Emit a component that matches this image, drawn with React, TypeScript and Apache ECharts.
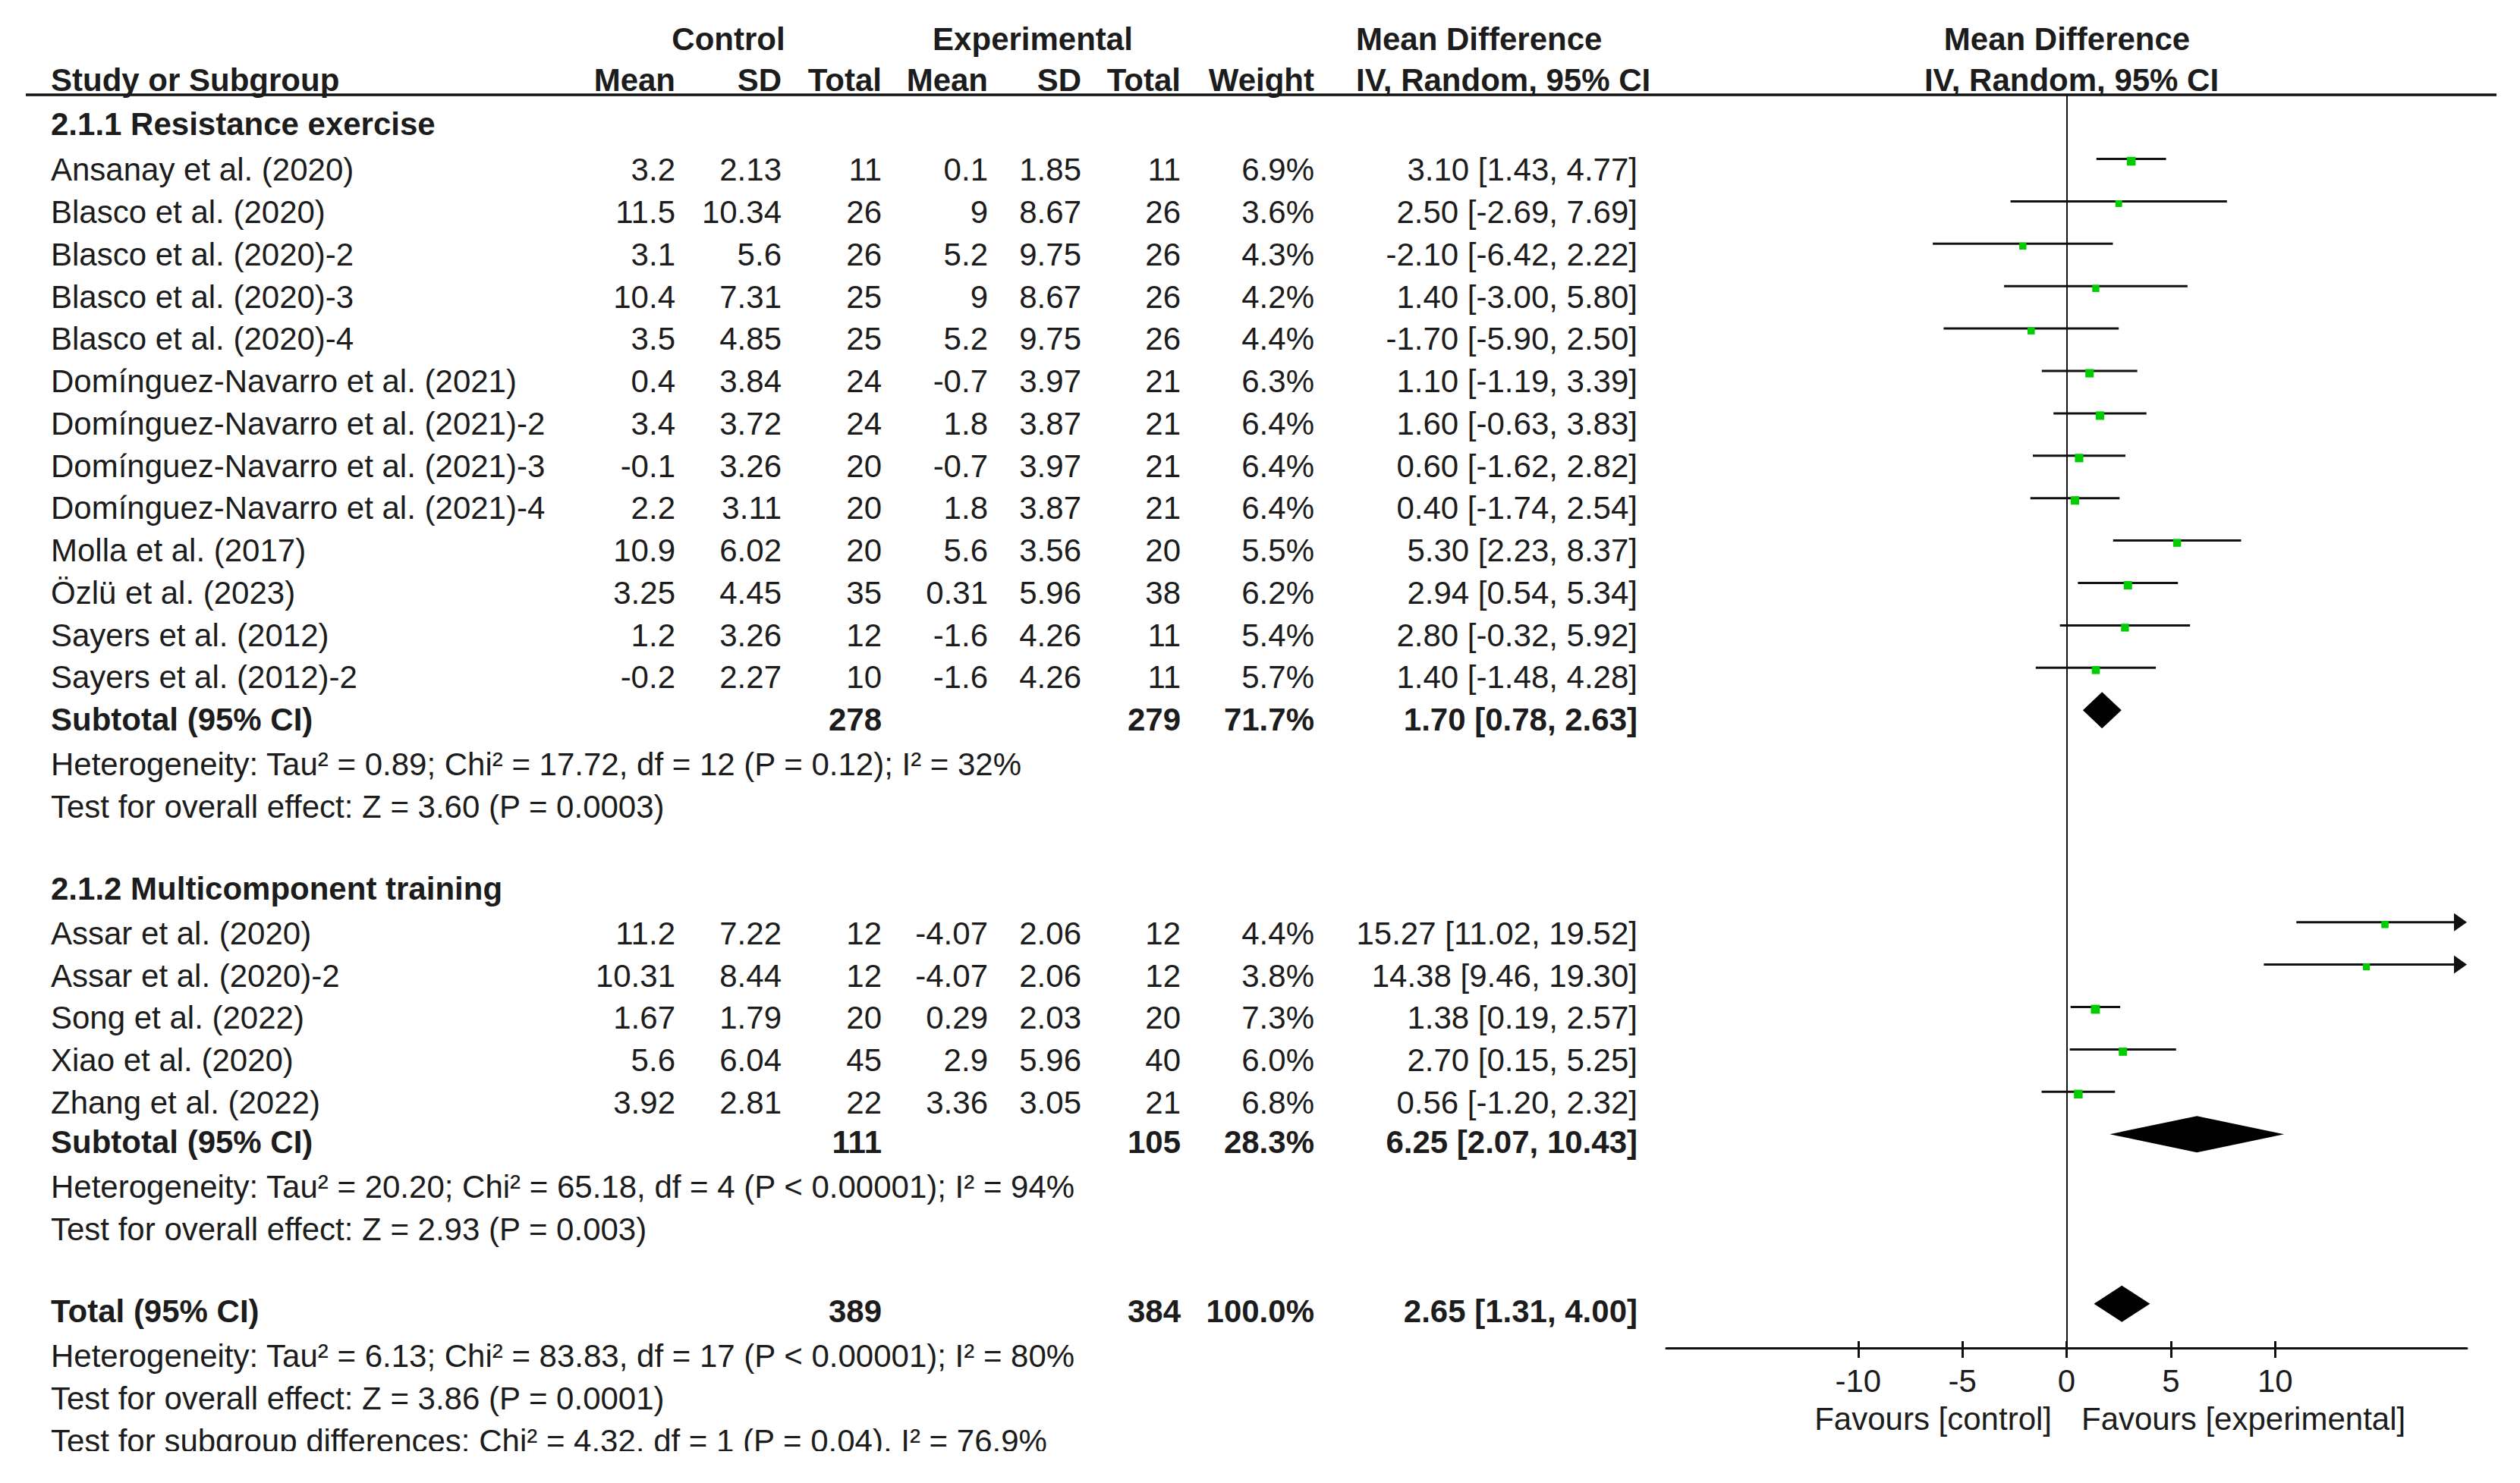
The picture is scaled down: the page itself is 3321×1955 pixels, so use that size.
import React, { useEffect, useRef } from "react";
import * as echarts from "echarts";

// ---------------- DATA ----------------
const groupTitles = ["2.1.1 Resistance exercise", "2.1.2 Multicomponent training"];

const studies1 = [
  "Ansanay et al. (2020)",
  "Blasco et al. (2020)",
  "Blasco et al. (2020)-2",
  "Blasco et al. (2020)-3",
  "Blasco et al. (2020)-4",
  "Domínguez-Navarro et al. (2021)",
  "Domínguez-Navarro et al. (2021)-2",
  "Domínguez-Navarro et al. (2021)-3",
  "Domínguez-Navarro et al. (2021)-4",
  "Molla et al. (2017)",
  "Özlü et al. (2023)",
  "Sayers et al. (2012)",
  "Sayers et al. (2012)-2",
];
const ctrlMean1 = [3.2, 11.5, 3.1, 10.4, 3.5, 0.4, 3.4, -0.1, 2.2, 10.9, 3.25, 1.2, -0.2];
const ctrlSD1 = [2.13, 10.34, 5.6, 7.31, 4.85, 3.84, 3.72, 3.26, 3.11, 6.02, 4.45, 3.26, 2.27];
const ctrlN1 = [11, 26, 26, 25, 25, 24, 24, 20, 20, 20, 35, 12, 10];
const expMean1 = [0.1, 9, 5.2, 9, 5.2, -0.7, 1.8, -0.7, 1.8, 5.6, 0.31, -1.6, -1.6];
const expSD1 = [1.85, 8.67, 9.75, 8.67, 9.75, 3.97, 3.87, 3.97, 3.87, 3.56, 5.96, 4.26, 4.26];
const expN1 = [11, 26, 26, 26, 26, 21, 21, 21, 21, 20, 38, 11, 11];
const weight1 = [6.9, 3.6, 4.3, 4.2, 4.4, 6.3, 6.4, 6.4, 6.4, 5.5, 6.2, 5.4, 5.7];
const md1 = [3.1, 2.5, -2.1, 1.4, -1.7, 1.1, 1.6, 0.6, 0.4, 5.3, 2.94, 2.8, 1.4];
const lo1 = [1.43, -2.69, -6.42, -3.0, -5.9, -1.19, -0.63, -1.62, -1.74, 2.23, 0.54, -0.32, -1.48];
const hi1 = [4.77, 7.69, 2.22, 5.8, 2.5, 3.39, 3.83, 2.82, 2.54, 8.37, 5.34, 5.92, 4.28];

const studies2 = [
  "Assar et al. (2020)",
  "Assar et al. (2020)-2",
  "Song et al. (2022)",
  "Xiao et al. (2020)",
  "Zhang et al. (2022)",
];
const ctrlMean2 = [11.2, 10.31, 1.67, 5.6, 3.92];
const ctrlSD2 = [7.22, 8.44, 1.79, 6.04, 2.81];
const ctrlN2 = [12, 12, 20, 45, 22];
const expMean2 = [-4.07, -4.07, 0.29, 2.9, 3.36];
const expSD2 = [2.06, 2.06, 2.03, 5.96, 3.05];
const expN2 = [12, 12, 20, 40, 21];
const weight2 = [4.4, 3.8, 7.3, 6.0, 6.8];
const md2 = [15.27, 14.38, 1.38, 2.7, 0.56];
const lo2 = [11.02, 9.46, 0.19, 0.15, -1.2];
const hi2 = [19.52, 19.3, 2.57, 5.25, 2.32];

// subtotal 1, subtotal 2, total
const pooledLabels = ["Subtotal (95% CI)", "Subtotal (95% CI)", "Total (95% CI)"];
const pooledCtrlN = [278, 111, 389];
const pooledExpN = [279, 105, 384];
const pooledWeight = [71.7, 28.3, 100.0];
const pooledMD = [1.7, 6.25, 2.65];
const pooledLo = [0.78, 2.07, 1.31];
const pooledHi = [2.63, 10.43, 4.0];

const stats1 = [
  "Heterogeneity: Tau² = 0.89; Chi² = 17.72, df = 12 (P = 0.12); I² = 32%",
  "Test for overall effect: Z = 3.60 (P = 0.0003)",
];
const stats2 = [
  "Heterogeneity: Tau² = 20.20; Chi² = 65.18, df = 4 (P < 0.00001); I² = 94%",
  "Test for overall effect: Z = 2.93 (P = 0.003)",
];
const statsTotal = [
  "Heterogeneity: Tau² = 6.13; Chi² = 83.83, df = 17 (P < 0.00001); I² = 80%",
  "Test for overall effect: Z = 3.86 (P = 0.0001)",
  "Test for subgroup differences: Chi² = 4.32, df = 1 (P = 0.04), I² = 76.9%",
];

const xTicks = [-10, -5, 0, 5, 10];
const axisMin = -19.2;
const axisMax = 19.2;

// ---------------- STYLE / LAYOUT ----------------
const FONT = "'Liberation Sans', Arial, Helvetica, sans-serif";
const TXT = "#1c1c1c";
const AX = "#111111";
const FS = 42;
const W = 3321;
const H = 1955;

const COL = {
  name: 67,
  cMean: 890,
  cSD: 1030,
  cTot: 1162,
  eMean: 1302,
  eSD: 1425,
  eTot: 1556,
  w: 1732,
  ci: 2158,
  mdLeft: 1787,
  plotCenter: 2724,
};

type Align = "left" | "right" | "center";
type TextItem = { x: number; row: number; text: string; align: Align; bold: boolean };

const fmtCI = (m: number, l: number, h: number) =>
  `${m.toFixed(2)} [${l.toFixed(2)}, ${h.toFixed(2)}]`;

function buildOption() {
  const items: TextItem[] = [];
  const add = (x: number, row: number, text: string, align: Align, bold = false) =>
    items.push({ x, row, text, align, bold });

  // headers
  const h0 = -0.1;
  const h1 = 0.88;
  add(960, h0, "Control", "center", true);
  add(1361, h0, "Experimental", "center", true);
  add(COL.mdLeft, h0, "Mean Difference", "left", true);
  add(COL.plotCenter, h0, "Mean Difference", "center", true);
  add(COL.name, h1, "Study or Subgroup", "left", true);
  add(COL.cMean, h1, "Mean", "right", true);
  add(COL.cSD, h1, "SD", "right", true);
  add(COL.cTot, h1, "Total", "right", true);
  add(COL.eMean, h1, "Mean", "right", true);
  add(COL.eSD, h1, "SD", "right", true);
  add(COL.eTot, h1, "Total", "right", true);
  add(COL.w, h1, "Weight", "right", true);
  add(COL.mdLeft, h1, "IV, Random, 95% CI", "left", true);
  add(COL.plotCenter + 6, h1, "IV, Random, 95% CI", "center", true);

  const ciData: number[][] = [];
  const markerData: number[][] = [];
  const diamondData: number[][] = [];

  const groups = [
    { names: studies1, cM: ctrlMean1, cS: ctrlSD1, cN: ctrlN1, eM: expMean1, eS: expSD1, eN: expN1, w: weight1, md: md1, lo: lo1, hi: hi1, stats: stats1 },
    { names: studies2, cM: ctrlMean2, cS: ctrlSD2, cN: ctrlN2, eM: expMean2, eS: expSD2, eN: expN2, w: weight2, md: md2, lo: lo2, hi: hi2, stats: stats2 },
  ];

  // small vertical nudges (in row units) of text rows
  const titleNudge = [-0.09, 0];
  const statsNudge = 0.06;
  const lateNudge = 0.06;

  let row = 2;
  const addPooled = (k: number, r: number) => {
    add(COL.name, r, pooledLabels[k], "left", true);
    add(COL.cTot, r, String(pooledCtrlN[k]), "right", true);
    add(COL.eTot, r, String(pooledExpN[k]), "right", true);
    add(COL.w, r, pooledWeight[k].toFixed(1) + "%", "right", true);
    add(COL.ci, r, fmtCI(pooledMD[k], pooledLo[k], pooledHi[k]), "right", true);
    diamondData.push([pooledLo[k], pooledMD[k], pooledHi[k], r]);
  };

  groups.forEach((g, gi) => {
    add(COL.name, row + titleNudge[gi], groupTitles[gi], "left", true);
    row++;
    g.names.forEach((n, i) => {
      const tr = row + (gi > 0 ? lateNudge : 0);
      add(COL.name, tr, n, "left");
      add(COL.cMean, tr, String(g.cM[i]), "right");
      add(COL.cSD, tr, String(g.cS[i]), "right");
      add(COL.cTot, tr, String(g.cN[i]), "right");
      add(COL.eMean, tr, String(g.eM[i]), "right");
      add(COL.eSD, tr, String(g.eS[i]), "right");
      add(COL.eTot, tr, String(g.eN[i]), "right");
      add(COL.w, tr, g.w[i].toFixed(1) + "%", "right");
      add(COL.ci, tr, fmtCI(g.md[i], g.lo[i], g.hi[i]), "right");
      ciData.push([g.lo[i], g.hi[i], row]);
      markerData.push([g.md[i], row, g.w[i]]);
      row++;
    });
    addPooled(gi, row);
    row++;
    g.stats.forEach((s) => {
      add(COL.name, row + statsNudge, s, "left");
      row++;
    });
    row++;
  });
  addPooled(2, row);
  row++;
  statsTotal.forEach((s) => {
    add(COL.name, row + statsNudge, s, "left");
    row++;
  });

  const textSeries = {
    type: "custom",
    coordinateSystem: "cartesian2d",
    xAxisIndex: 0,
    yAxisIndex: 0,
    silent: true,
    clip: false,
    z: 10,
    data: items.map((it) => [it.x, it.row]),
    encode: { x: 0, y: 1 },
    renderItem: (params: any, api: any) => {
      const it = items[params.dataIndex];
      const p = api.coord([api.value(0), api.value(1)]);
      return {
        type: "text",
        x: p[0],
        y: p[1],
        style: {
          text: it.text,
          fill: TXT,
          fontFamily: FONT,
          fontSize: FS,
          fontWeight: it.bold ? "bold" : "normal",
          align: it.align,
          verticalAlign: "middle",
        },
      };
    },
  };

  const ciSeries = {
    type: "custom",
    coordinateSystem: "cartesian2d",
    xAxisIndex: 1,
    yAxisIndex: 1,
    silent: true,
    clip: false,
    z: 3,
    data: ciData,
    encode: { x: [0, 1], y: 2 },
    renderItem: (_params: any, api: any) => {
      const lo = api.value(0);
      const hi = api.value(1);
      const r = api.value(2);
      const a = Math.max(lo, axisMin);
      const b = Math.min(hi, axisMax);
      const p1 = api.coord([a, r]);
      const p2 = api.coord([b, r]);
      const children: any[] = [];
      const headLen = 17;
      const headHalf = 12;
      let x1 = p1[0];
      let x2 = p2[0];
      if (hi > axisMax) {
        children.push({
          type: "polygon",
          shape: { points: [[p2[0], p2[1]], [p2[0] - headLen, p2[1] - headHalf], [p2[0] - headLen, p2[1] + headHalf]] },
          style: { fill: AX },
        });
        x2 = p2[0] - headLen + 2;
      }
      if (lo < axisMin) {
        children.push({
          type: "polygon",
          shape: { points: [[p1[0], p1[1]], [p1[0] + headLen, p1[1] - headHalf], [p1[0] + headLen, p1[1] + headHalf]] },
          style: { fill: AX },
        });
        x1 = p1[0] + headLen - 2;
      }
      children.push({
        type: "line",
        shape: { x1, y1: p1[1], x2, y2: p2[1] },
        style: { stroke: AX, lineWidth: 3 },
      });
      return { type: "group", children };
    },
  };

  const diamondSeries = {
    type: "custom",
    coordinateSystem: "cartesian2d",
    xAxisIndex: 1,
    yAxisIndex: 1,
    silent: true,
    clip: false,
    z: 3,
    data: diamondData,
    encode: { x: [0, 1, 2], y: 3 },
    renderItem: (_params: any, api: any) => {
      const r = api.value(3);
      const pl = api.coord([api.value(0), r]);
      const pm = api.coord([api.value(1), r]);
      const ph = api.coord([api.value(2), r]);
      const hh = 24;
      return {
        type: "polygon",
        shape: { points: [[pl[0], pl[1]], [pm[0], pm[1] - hh], [ph[0], ph[1]], [pm[0], pm[1] + hh]] },
        style: { fill: "#000000" },
      };
    },
  };

  const markerSeries = {
    type: "scatter",
    xAxisIndex: 1,
    yAxisIndex: 1,
    silent: true,
    z: 4,
    symbol: "rect",
    symbolSize: (v: number[]) => 6 + 0.8 * v[2],
    symbolOffset: [0, 3],
    itemStyle: { color: "#00cc00", opacity: 1 },
    data: markerData,
    encode: { x: 0, y: 1 },
    markLine: {
      silent: true,
      symbol: ["none", "none"],
      label: { show: false },
      lineStyle: { color: AX, width: 2, type: "solid" },
      data: [{ xAxis: 0 }],
    },
  };

  const tickStyle = { color: AX, width: 3 };

  return {
    animation: false,
    backgroundColor: "#ffffff",
    grid: [
      { left: 0, top: 0, width: W, height: H, outerBoundsMode: "none", containLabel: false },
      { left: 2196, top: 125, width: 1055, height: 1652, outerBoundsMode: "none", containLabel: false },
    ],
    xAxis: [
      { gridIndex: 0, type: "value", min: 0, max: W, show: false },
      {
        gridIndex: 1,
        type: "value",
        min: axisMin,
        max: axisMax,
        position: "bottom",
        axisLine: { show: true, onZero: false, lineStyle: { color: AX, width: 3 } },
        axisTick: { show: true, customValues: xTicks, inside: false, length: 13, lineStyle: tickStyle },
        axisLabel: {
          show: true,
          customValues: xTicks,
          margin: 22,
          color: TXT,
          fontSize: FS,
          fontFamily: FONT,
        },
        splitLine: { show: false },
      },
      {
        gridIndex: 1,
        type: "value",
        min: axisMin,
        max: axisMax,
        position: "bottom",
        axisLine: { show: false, onZero: false },
        axisTick: { show: true, customValues: xTicks, inside: true, length: 9, lineStyle: tickStyle },
        axisLabel: { show: false },
        splitLine: { show: false },
      },
    ],
    yAxis: [
      { gridIndex: 0, type: "value", min: -1.019, max: 34.06, inverse: true, show: false },
      { gridIndex: 1, type: "value", min: 1.488, max: 31.041, inverse: true, show: false },
    ],
    graphic: [
      {
        type: "line",
        shape: { x1: 34, y1: 125, x2: 3290, y2: 125 },
        style: { stroke: AX, lineWidth: 3.5 },
        z: 5,
      },
      {
        type: "text",
        x: 2704,
        y: 1870,
        style: {
          text: "Favours [control]",
          fill: TXT,
          fontFamily: FONT,
          fontSize: FS,
          align: "right",
          textAlign: "right",
          verticalAlign: "middle",
          textVerticalAlign: "middle",
        },
        z: 5,
      },
      {
        type: "text",
        x: 2743,
        y: 1870,
        style: {
          text: "Favours [experimental]",
          fill: TXT,
          fontFamily: FONT,
          fontSize: FS,
          align: "left",
          textAlign: "left",
          verticalAlign: "middle",
          textVerticalAlign: "middle",
        },
        z: 5,
      },
      {
        type: "rect",
        shape: { x: 0, y: 1913, width: W, height: H - 1913 },
        style: { fill: "#ffffff" },
        z: 100,
      },
    ],
    series: [ciSeries, diamondSeries, markerSeries, textSeries],
  };
}

export default function App() {
  const ref = useRef<HTMLDivElement>(null);
  useEffect(() => {
    if (!ref.current) return;
    const chart = echarts.init(ref.current, null, { renderer: "svg" });
    chart.setOption(buildOption() as any);
    return () => chart.dispose();
  }, []);
  return (
    <div
      ref={ref}
      style={{ position: "absolute", left: 0, top: 0, width: W, height: H, background: "#ffffff" }}
    />
  );
}
